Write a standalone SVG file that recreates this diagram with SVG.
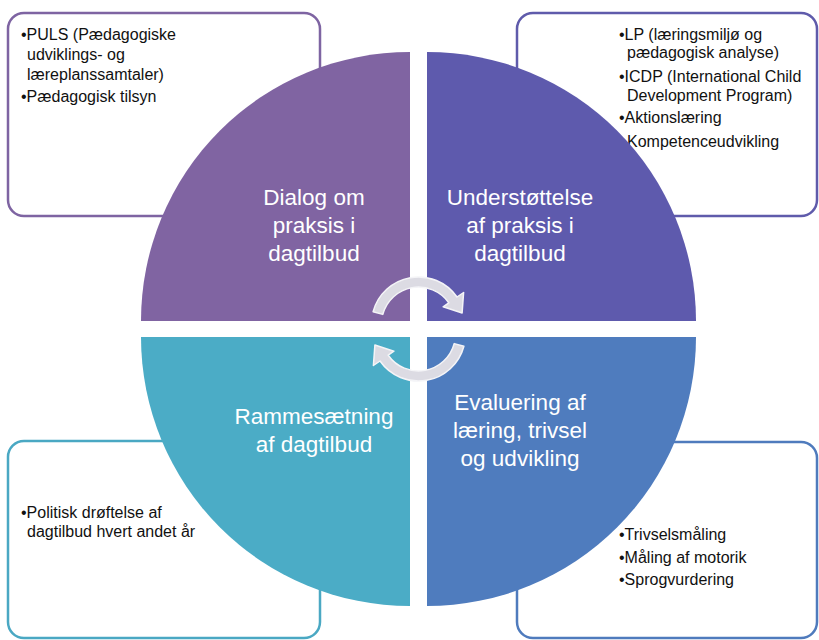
<svg xmlns="http://www.w3.org/2000/svg" xmlns:xlink="http://www.w3.org/1999/xlink" width="819" height="640" viewBox="0 0 819 640">
<style>
.box{fill:#fff;stroke-width:2.5}
.btxt{font-family:"Liberation Sans",Arial,sans-serif;font-size:16px;fill:#111}
.qtxt{font-family:"Liberation Sans",Arial,sans-serif;font-size:22.5px;fill:#fff;text-anchor:middle}
.arrow{fill:#dcdbe3;stroke:#f4f4f7;stroke-width:1.5;stroke-linejoin:round}
</style>
<defs>
<path id="cyc" class="arrow" d="M373.1,311.8 A47,47 0 0 1 457.0,297.0 L463.6,292.5 L462.1,313.0 L443.1,306.8 L448.8,302.8 A37,37 0 0 0 382.8,314.4 Z"/>
</defs>
<rect width="819" height="640" fill="#fff"/>
<g id="box-tl">
<rect class="box" x="8" y="13" width="312" height="203" rx="16" stroke="#7e64a2"/>
<text class="btxt"><tspan x="21" y="40">•PULS (Pædagogiske</tspan><tspan x="27" y="60">udviklings- og</tspan><tspan x="27" y="80">læreplanssamtaler)</tspan><tspan x="21" y="102">•Pædagogisk tilsyn</tspan></text>
</g>
<g id="box-tr">
<rect class="box" x="517" y="13" width="300" height="203" rx="16" stroke="#5f5bab"/>
<text class="btxt"><tspan x="619" y="40">•LP (læringsmiljø og</tspan><tspan x="627" y="58">pædagogisk analyse)</tspan><tspan x="619" y="82">•ICDP (International Child</tspan><tspan x="627" y="101">Development Program)</tspan><tspan x="619" y="123">•Aktionslæring</tspan><tspan x="627" y="147">Kompetenceudvikling</tspan></text>
</g>
<g id="box-bl">
<rect class="box" x="8" y="441" width="312" height="197" rx="16" stroke="#4aa8c3"/>
<text class="btxt"><tspan x="21" y="518">•Politisk drøftelse af</tspan><tspan x="27" y="537">dagtilbud hvert andet år</tspan></text>
</g>
<g id="box-br">
<rect class="box" x="517" y="442" width="300" height="196" rx="16" stroke="#4f7bbd"/>
<text class="btxt"><tspan x="619" y="540">•Trivselsmåling</tspan><tspan x="619" y="563">•Måling af motorik</tspan><tspan x="619" y="585">•Sprogvurdering</tspan></text>
</g>
<g id="q-dialog">
<path d="M410,321 L141,321 A269,269 0 0 1 410,52 Z" fill="#8064a2"/>
<text class="qtxt"><tspan x="314" y="205">Dialog om</tspan><tspan x="314" y="233">praksis i</tspan><tspan x="314" y="261">dagtilbud</tspan></text>
</g>
<g id="q-understoettelse">
<path d="M427,321 L427,52 A269,269 0 0 1 696,321 Z" fill="#5e5aad"/>
<text class="qtxt"><tspan x="520" y="205">Understøttelse</tspan><tspan x="520" y="233">af praksis i</tspan><tspan x="520" y="261">dagtilbud</tspan></text>
</g>
<g id="q-rammesaetning">
<path d="M410,337 L410,606 A269,269 0 0 1 141,337 Z" fill="#4bacc6"/>
<text class="qtxt"><tspan x="314" y="424">Rammesætning</tspan><tspan x="314" y="452">af dagtilbud</tspan></text>
</g>
<g id="q-evaluering">
<path d="M427,337 L696,337 A269,269 0 0 1 427,606 Z" fill="#4f7cbe"/>
<text class="qtxt"><tspan x="520" y="410">Evaluering af</tspan><tspan x="520" y="438">læring, trivsel</tspan><tspan x="520" y="466">og udvikling</tspan></text>
</g>
<g id="connectors">
<use xlink:href="#cyc"/>
<use xlink:href="#cyc" transform="rotate(180 418.5 329)"/>
</g>
</svg>
